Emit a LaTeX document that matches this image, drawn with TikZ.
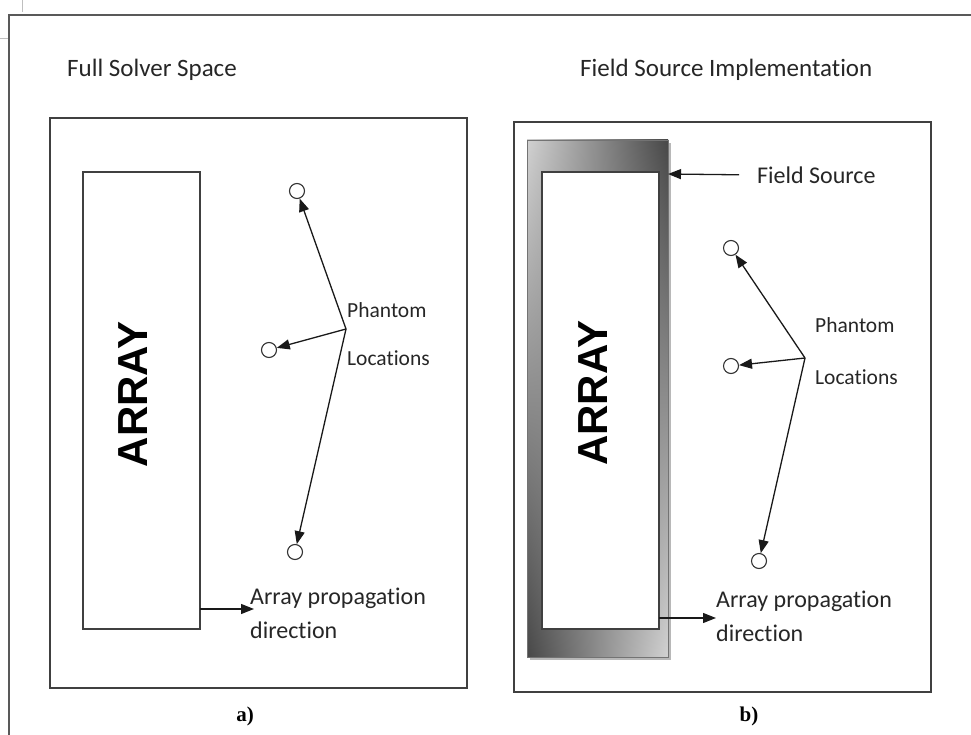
\documentclass[tikz,border=0pt]{standalone}
\usepackage{fontspec}
\setmainfont[Ligatures=NoCommon]{Carlito}
\newfontfamily\arrayfont{Liberation Sans}
\newfontfamily\capfont{Liberation Serif}
\usetikzlibrary{arrows.meta,shadings}

\tikzset{
  frame/.style={draw=black!75, line width=1.4pt},
  spot/.style={circle, draw=black!80, line width=1.1pt, minimum size=15pt, inner sep=0pt},
  pointer/.style={draw=black!90, line width=1.3pt, -{Triangle[length=13pt,width=10pt]}},
  lbl/.style={font=\fontsize{24}{34}\selectfont, text=black!85, inner sep=0pt, align=left, anchor=west},
  title/.style={font=\fontsize{25}{30}\selectfont, text=black!85, inner sep=0pt, anchor=west},
  small/.style={font=\fontsize{21.5}{26}\selectfont, text=black!85, inner sep=0pt, anchor=west},
  arraytext/.style={rotate=90, text=black, inner sep=0pt, font=\arrayfont\bfseries\fontsize{42}{42}\selectfont},
  caption/.style={font=\capfont\bfseries\fontsize{21}{21}\selectfont, inner sep=0pt}
}

\begin{document}
\begin{tikzpicture}[x=1pt,y=-1pt]
	\useasboundingbox (0,0) rectangle (971,735);
	% page edges
	\draw[black!25, line width=0.8pt] (22,0) -- (22,12);
	\draw[black!25, line width=0.8pt] (0,38) -- (9,38);
	\draw[black!65, line width=1.6pt] (971,15) -- (9,15) -- (9,735);

	% a) full solver space
	\node[title] (titleA) at (67,70) {Full Solver Space};
	\draw[frame] (50,118) rectangle (467,688);
	\node[frame, minimum width=117pt, minimum height=457pt, inner sep=0pt] (arrA) at (141.5,400.5) {};
	\node[arraytext] (nameA) at (133.5,394.5) {ARRAY};
	\node[spot] (pa1) at (297,191) {};
	\node[spot] (pa2) at (269,350) {};
	\node[spot] (pa3) at (295,552) {};
	\coordinate (hubA) at (346,329);
	\foreach \p in {pa1,pa2,pa3} \draw[pointer] (hubA) -- (\p);
	\node[small] (phA) at (347,310) {Phantom};
	\node[small] (locA) at (347,358) {Locations};
	\coordinate (outA) at (200,609);
	\node[lbl] (propA) at (250,613) {Array propagation\\direction};
	\draw[pointer] (outA) -- ([xshift=4pt]outA -| propA.west);
	\node[caption] (capA) at (245,716) {a)};

	% b) field source implementation
	\node[title] (titleB) at (580,70) {Field Source Implementation};
	\draw[frame] (514,122) rectangle (931,692);
	\fill[black!28] (530,143) rectangle (671,660);
	\shade[shading=bilinear interpolation, upper left=black!18, upper right=black!72, lower left=black!72, lower right=black!18, draw=black!55, line width=0.8pt] (527,140) rectangle (668,657);
	\node[frame, fill=white, minimum width=117pt, minimum height=457pt, inner sep=0pt] (arrB) at (600.5,400.5) {};
	\node[arraytext] (nameB) at (593,393) {ARRAY};
	\node[lbl] (src) at (757,175) {Field Source};
	\coordinate (srcEdge) at (668,174);
	\draw[pointer, shorten <=18pt] (src.west) -- (srcEdge);
	\node[spot] (pb1) at (731,248) {};
	\node[spot] (pb2) at (731,366) {};
	\node[spot] (pb3) at (759,561) {};
	\coordinate (hubB) at (805,358);
	\foreach \p in {pb1,pb2,pb3} \draw[pointer] (hubB) -- (\p);
	\node[small] (phB) at (815,325) {Phantom};
	\node[small] (locB) at (815,377) {Locations};
	\coordinate (outB) at (659,618);
	\node[lbl] (propB) at (716,616) {Array propagation\\direction};
	\draw[pointer] (outB) -- (outB -| propB.west);
	\node[caption] (capB) at (749,716) {b)};
\end{tikzpicture}
\end{document}
